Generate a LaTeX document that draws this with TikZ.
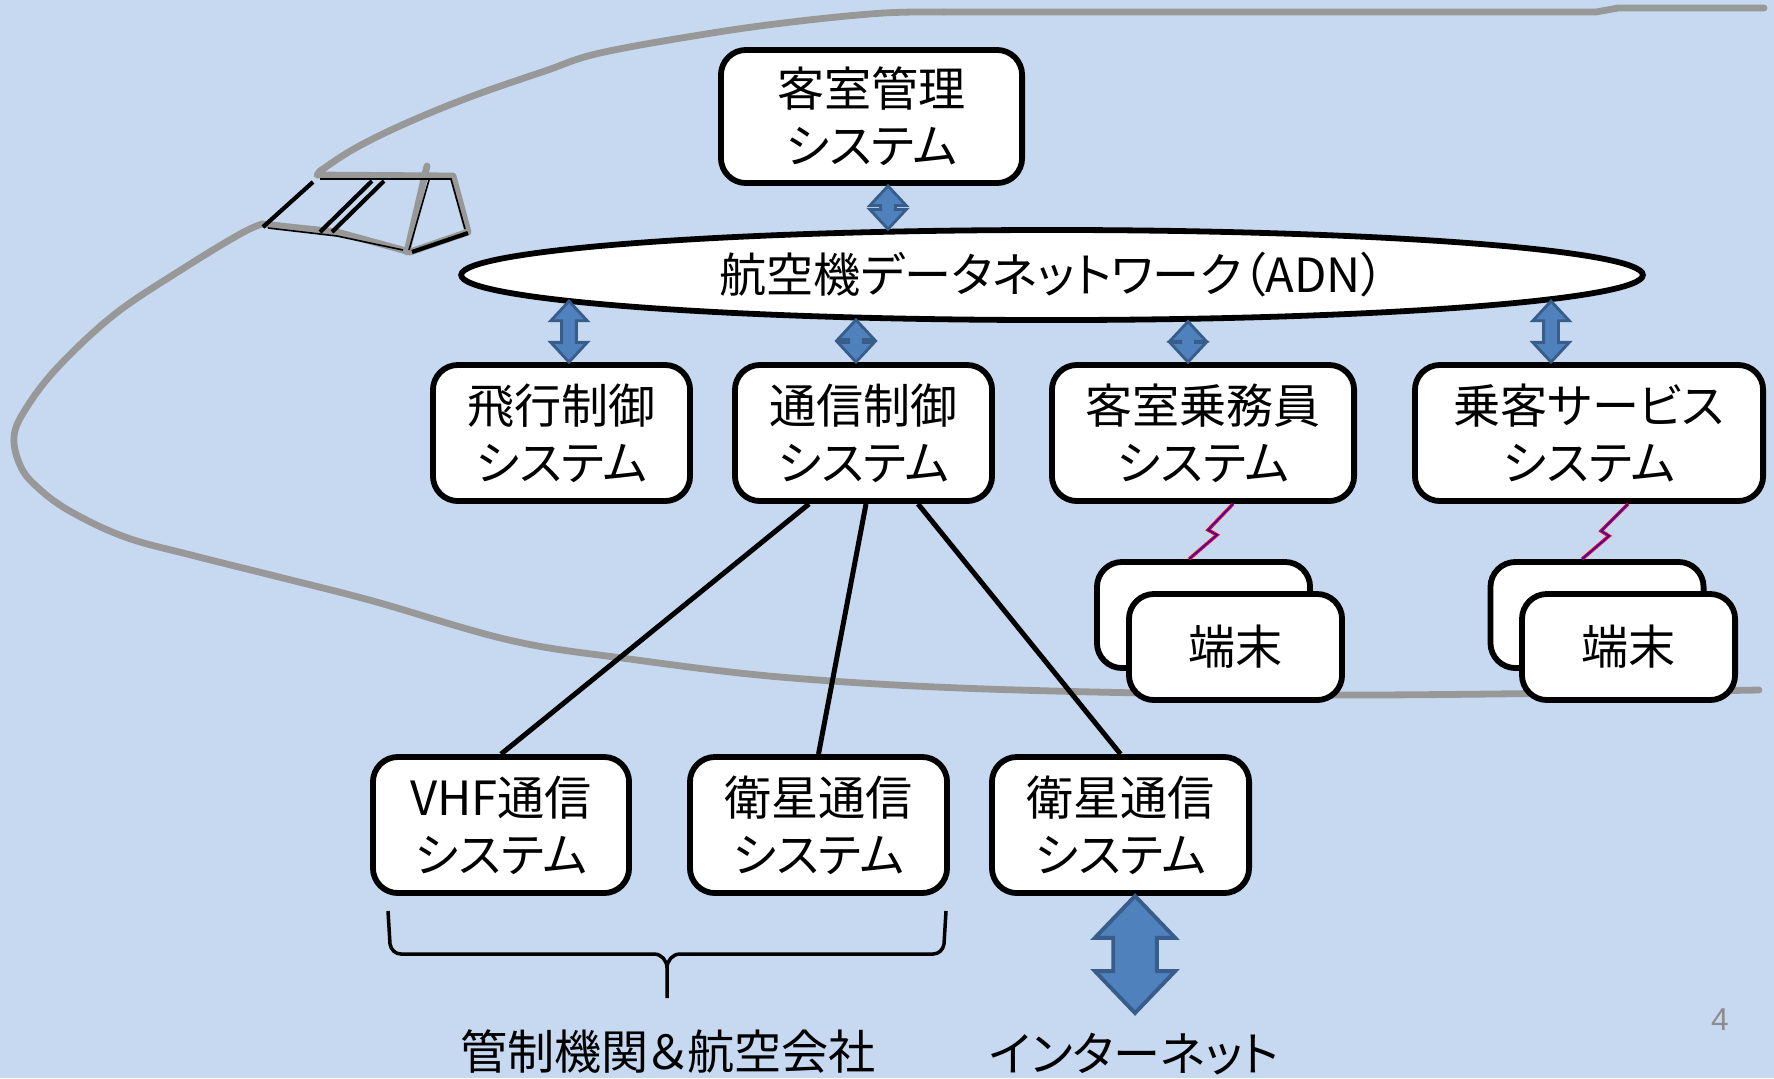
\documentclass[tikz,border=0pt]{standalone}
\usepackage{fontspec}
\setmainfont{Noto Sans CJK JP}[RawFeature={+palt}]
\newfontfamily\numfont{Liberation Sans}
\usetikzlibrary{shapes.geometric,calc}

\definecolor{bg}{RGB}{198,217,240}
\definecolor{hullgray}{RGB}{152,152,152}
\definecolor{arrfill}{RGB}{79,129,189}
\definecolor{arredge}{RGB}{56,93,138}
\definecolor{pagegray}{RGB}{140,140,140}

% vertical block double arrow: #2 upper end, #3 lower end,
% #4 half head width, #5 half shaft width, #6 head length
\newcommand\dblarrow[6][arrowshape]{%
  \filldraw[#1] let \p1=#2, \p2=#3 in
    (\x1,\y1) -- (\x1+#4,\y1-#6) -- (\x1+#5,\y1-#6) -- (\x1+#5,\y2+#6)
    -- (\x1+#4,\y2+#6) -- (\x1,\y2) -- (\x1-#4,\y2+#6) -- (\x1-#5,\y2+#6)
    -- (\x1-#5,\y1-#6) -- (\x1-#4,\y1-#6) -- cycle;}

\tikzset{
  txt/.style={font=\fontsize{13.4}{16.2}\selectfont},
  sysbox/.style={txt, draw=black, line width=0.058cm, fill=white,
    rounded corners=0.25cm, align=center, inner sep=0pt},
  termbox/.style={sysbox, minimum width=2.13cm, minimum height=1.06cm},
  link/.style={draw=black, line width=0.05cm},
  hull/.style={draw=hullgray, line width=0.068cm, line cap=round, line join=round},
  thinblk/.style={draw=black, line width=0.016cm},
  thickblk/.style={draw=black, line width=0.042cm},
  arrowshape/.style={fill=arrfill, draw=arredge, line width=0.8pt, line join=miter},
  bigarrowshape/.style={arrowshape, line width=1.1pt},
  bolt/.style={draw=blue, line width=0.012cm, line join=miter,
    preaction={draw=red, line width=0.034cm}},
  brace/.style={draw=black, line width=0.035cm, line join=round},
}

\begin{document}
\begin{tikzpicture}[x=0.01cm, y=-0.01cm]
\useasboundingbox (0,0) rectangle (1774,1078);
\fill[bg] (0,0) rectangle (1774,1078);

% fuselage outline
\draw[hull] (1764,8) -- (1618,8) -- (1596,12) -- (944,12);
\draw[hull] plot[smooth, tension=0.6] coordinates {(944,12) (884,13) (800,21) (712,33)
  (600,53) (545,71) (470,97) (402,125) (352,150) (319,172)};
\draw[hull] plot[smooth, tension=0.6] coordinates {(262,224) (240,234) (184,268) (115,314)
  (57,368) (25,410) (14,437) (20,465) (35,485) (68,510) (125,537) (195,556) (283,578)
  (373,601) (509,640) (622,658) (792,678) (1018,690) (1357,695) (1759,690)};

% cockpit windows
\draw[hull] (262,224) -- (337,232) -- (410,252) -- (468,232) -- (453,176) -- (317,175) -- (321,170);
\draw[hull] (427,166) -- (407,252);
\draw[thinblk] (320,179) -- (451,179) -- (465,229);
\draw[thinblk] (268,228) -- (337,236) -- (403,250);
\draw[thinblk] (429,180) -- (409,250);
\draw[thickblk] (313,182) -- (263,227);
\draw[thickblk] (372,181) -- (320,232);
\draw[thickblk] (384,181) -- (332,232);
\draw[thickblk] (412,252) -- (468,233);

% systems
\node[sysbox, minimum width=3.01cm, minimum height=1.33cm] (kanri) at (871.5,116.5) {客室管理\\システム};
\node[draw=black, line width=0.058cm, fill=white, ellipse, inner sep=0pt,
  minimum width=11.81cm, minimum height=0.9cm, txt] (adn) at (1052,275) {航空機データネットワーク（ADN）};

\node[sysbox, minimum width=2.57cm, minimum height=1.36cm] (hiko) at (561.5,433) {飛行制御\\システム};
\node[sysbox, minimum width=2.57cm, minimum height=1.36cm] (tsushin) at (863.5,433) {通信制御\\システム};
\node[sysbox, minimum width=3.02cm, minimum height=1.36cm] (jomuin) at (1203,433) {客室乗務員\\システム};
\node[sysbox, minimum width=3.48cm, minimum height=1.36cm] (jokyaku) at (1589,433) {乗客サービス\\システム};

% communication systems and their links
\node[sysbox, minimum width=2.56cm, minimum height=1.36cm] (vhf) at (501,825) {VHF通信\\システム};
\node[sysbox, minimum width=2.57cm, minimum height=1.36cm] (eiseiA) at (818.5,825) {衛星通信\\システム};
\node[sysbox, minimum width=2.57cm, minimum height=1.36cm] (eiseiB) at (1120.5,825) {衛星通信\\システム};
\draw[link] ($(tsushin.south)+(-54.5,0)$) -- (vhf.north);
\draw[link] ($(tsushin.south)+(2.5,0)$) -- (eiseiA.north);
\draw[link] ($(tsushin.south)+(54.5,0)$) -- (eiseiB.north);

% terminals
\node[termbox] (termLback) at (1203.5,615) {};
\node[termbox] (termL) at (1235.5,647) {端末};
\node[termbox] (termRback) at (1597,615) {};
\node[termbox] (termR) at (1628.5,647) {端末};

% wireless links
\draw[bolt] ($(jomuin.south)+(30,0)$) -- ++(-25,26) -- ++(9,5) -- ($(termLback.north)+(-14.5,0)$);
\draw[bolt] ($(jokyaku.south)+(39,0)$) -- ++(-27,27) -- ++(8,5) -- ($(termRback.north)+(-15,0)$);

% network connections
\coordinate (ax0) at ($(kanri.south)+(16.5,0)$);
\coordinate (ax1) at ($(hiko.north)+(7.5,0)$);
\coordinate (ax2) at ($(tsushin.north)+(-7.5,0)$);
\coordinate (ax3) at ($(jomuin.north)+(-15,0)$);
\coordinate (ax4) at ($(jokyaku.north)+(-38,0)$);
\dblarrow{(ax0)}{(adn.165 -| ax0)}{5.2pt}{2.1pt}{5.6pt}
\dblarrow{(adn.183 -| ax1)}{(ax1)}{5.2pt}{2.1pt}{5.6pt}
\dblarrow{(adn.192 -| ax2)}{(ax2)}{5.2pt}{2.1pt}{5.6pt}
\dblarrow{(adn.342 -| ax3)}{(ax3)}{5.2pt}{2.1pt}{5.6pt}
\dblarrow{(adn.357 -| ax4)}{(ax4)}{5.2pt}{2.1pt}{5.6pt}

% internet link
\coordinate (netx) at ($(eiseiB.south)+(14.5,0)$);
\coordinate (netend) at (1135,1013);
\dblarrow[bigarrowshape]{(netx)}{(netend)}{11.4pt}{6.2pt}{11.9pt}

% grouping brace
\draw[brace] (388,911) -- (390,944) to[out=-80,in=180] (401,954) -- (654,954)
  to[out=0,in=90] (667,968) -- (667,998);
\draw[brace] (946,911) -- (944,944) to[out=-100,in=0] (933,954) -- (680,954)
  to[out=180,in=90] (667,968);

\node[txt] (ctrl) at (668,1052) {管制機関＆航空会社};
\node[txt] (inet) at (1134,1054) {インターネット};

\node[font=\numfont\fontsize{9}{10}\selectfont, text=pagegray] (pageno) at (1720,1020) {4};
\end{tikzpicture}
\end{document}
